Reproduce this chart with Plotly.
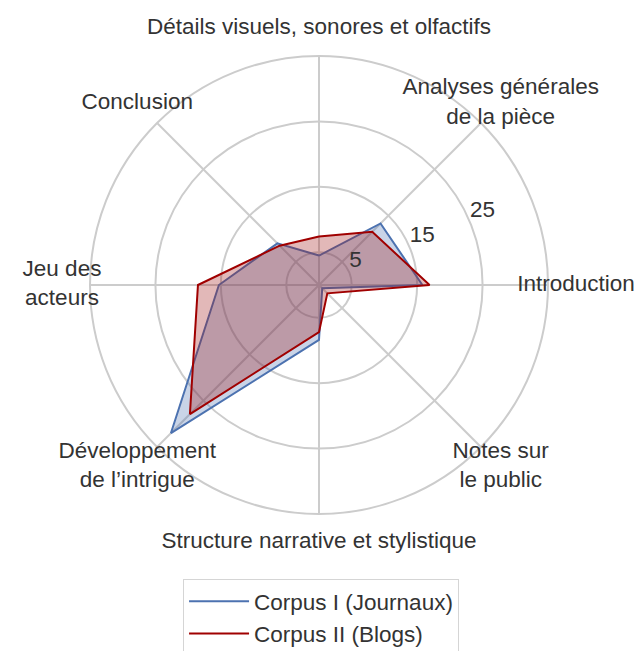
import plotly.graph_objects as go

# categories in clockwise order, starting at the top
categories = [
    "Détails visuels, sonores et olfactifs",
    "Analyses générales<br>de la pièce",
    "Introduction",
    "Notes sur<br>le public",
    "Structure narrative et stylistique",
    "Développement<br>de l’intrigue",
    "Jeu des<br>acteurs",
    "Conclusion",
]
corpus_journaux = [4.5, 13.3, 15.8, 0.7, 8.4, 32.0, 15.3, 9.0]
corpus_blogs = [7.4, 11.5, 16.9, 1.8, 7.2, 27.9, 18.5, 8.5]
radial_ticks = [5, 15, 25]
tick_labels = ["5", "15", "25"]

FONT = "Liberation Sans, Arial, sans-serif"
FONT_SIZE = 22.5
TEXT = "#333333"
GRID = "#cccccc"

R_MAX = 35            # outer ring of the chart
RING_PX = 229         # outer ring radius on screen
LABEL_PX = 257        # radius where the category labels are centred
LABEL_R = R_MAX * LABEL_PX / RING_PX
RLABEL_THETA = 67.5   # radial tick labels, clockwise from the top

# inner polar (data) sits inside the outer, invisible polar used for text
inner = (LABEL_PX - RING_PX) / (2 * LABEL_PX)
inner_dom = [inner, 1 - inner]


def closed(vals):
    return vals + vals[:1]


fig = go.Figure()

series = [
    ("Corpus I (Journaux)", corpus_journaux, "#4c72b0", "rgba(76,114,176,0.30)"),
    ("Corpus II (Blogs)", corpus_blogs, "#a00000", "rgba(160,20,20,0.30)"),
]
for name, vals, line_col, fill_col in series:
    fig.add_trace(go.Scatterpolar(
        r=closed(vals),
        theta=closed(categories),
        mode="none",
        fill="toself",
        fillcolor=fill_col,
        showlegend=False,
        hoverinfo="skip",
        subplot="polar",
    ))
    fig.add_trace(go.Scatterpolar(
        r=closed(vals),
        theta=closed(categories),
        mode="lines",
        line=dict(color=line_col, width=2),
        name=name,
        subplot="polar",
    ))

# category labels, centred around the chart
step = 360 / len(categories)
fig.add_trace(go.Scatterpolar(
    r=[LABEL_R] * len(categories),
    theta=[i * step for i in range(len(categories))],
    mode="text",
    text=categories,
    textposition="middle center",
    textfont=dict(family=FONT, size=FONT_SIZE, color=TEXT),
    cliponaxis=False,
    showlegend=False,
    hoverinfo="skip",
    subplot="polar2",
))

# radial tick labels
fig.add_trace(go.Scatterpolar(
    r=radial_ticks,
    theta=[RLABEL_THETA] * len(radial_ticks),
    mode="text",
    text=tick_labels,
    textposition="top right",
    textfont=dict(family=FONT, size=FONT_SIZE, color=TEXT),
    cliponaxis=False,
    showlegend=False,
    hoverinfo="skip",
    subplot="polar2",
))

fig.update_layout(
    width=644,
    height=643,
    margin=dict(l=54, r=76, t=20, b=109, autoexpand=False),
    paper_bgcolor="white",
    plot_bgcolor="white",
    font=dict(family=FONT, size=FONT_SIZE, color=TEXT),
    polar=dict(
        bgcolor="white",
        domain=dict(x=inner_dom, y=inner_dom),
        radialaxis=dict(
            range=[0, R_MAX],
            tickvals=radial_ticks,
            showticklabels=False,
            showline=False,
            ticks="",
            gridcolor=GRID,
            gridwidth=1.5,
        ),
        angularaxis=dict(
            rotation=90,
            direction="clockwise",
            gridcolor=GRID,
            gridwidth=1.5,
            linecolor=GRID,
            linewidth=2,
            showticklabels=False,
            ticks="",
        ),
    ),
    polar2=dict(
        bgcolor="rgba(0,0,0,0)",
        domain=dict(x=[0, 1], y=[0, 1]),
        radialaxis=dict(
            range=[0, LABEL_R],
            visible=False,
        ),
        angularaxis=dict(
            rotation=90,
            direction="clockwise",
            visible=False,
        ),
    ),
    legend=dict(
        x=0.504,
        y=-0.072,
        xanchor="center",
        yanchor="top",
        itemwidth=60,
        bordercolor="#d5d5d5",
        borderwidth=1,
        font=dict(size=FONT_SIZE, color=TEXT),
        bgcolor="white",
    ),
)

fig.write_html("out.html")
